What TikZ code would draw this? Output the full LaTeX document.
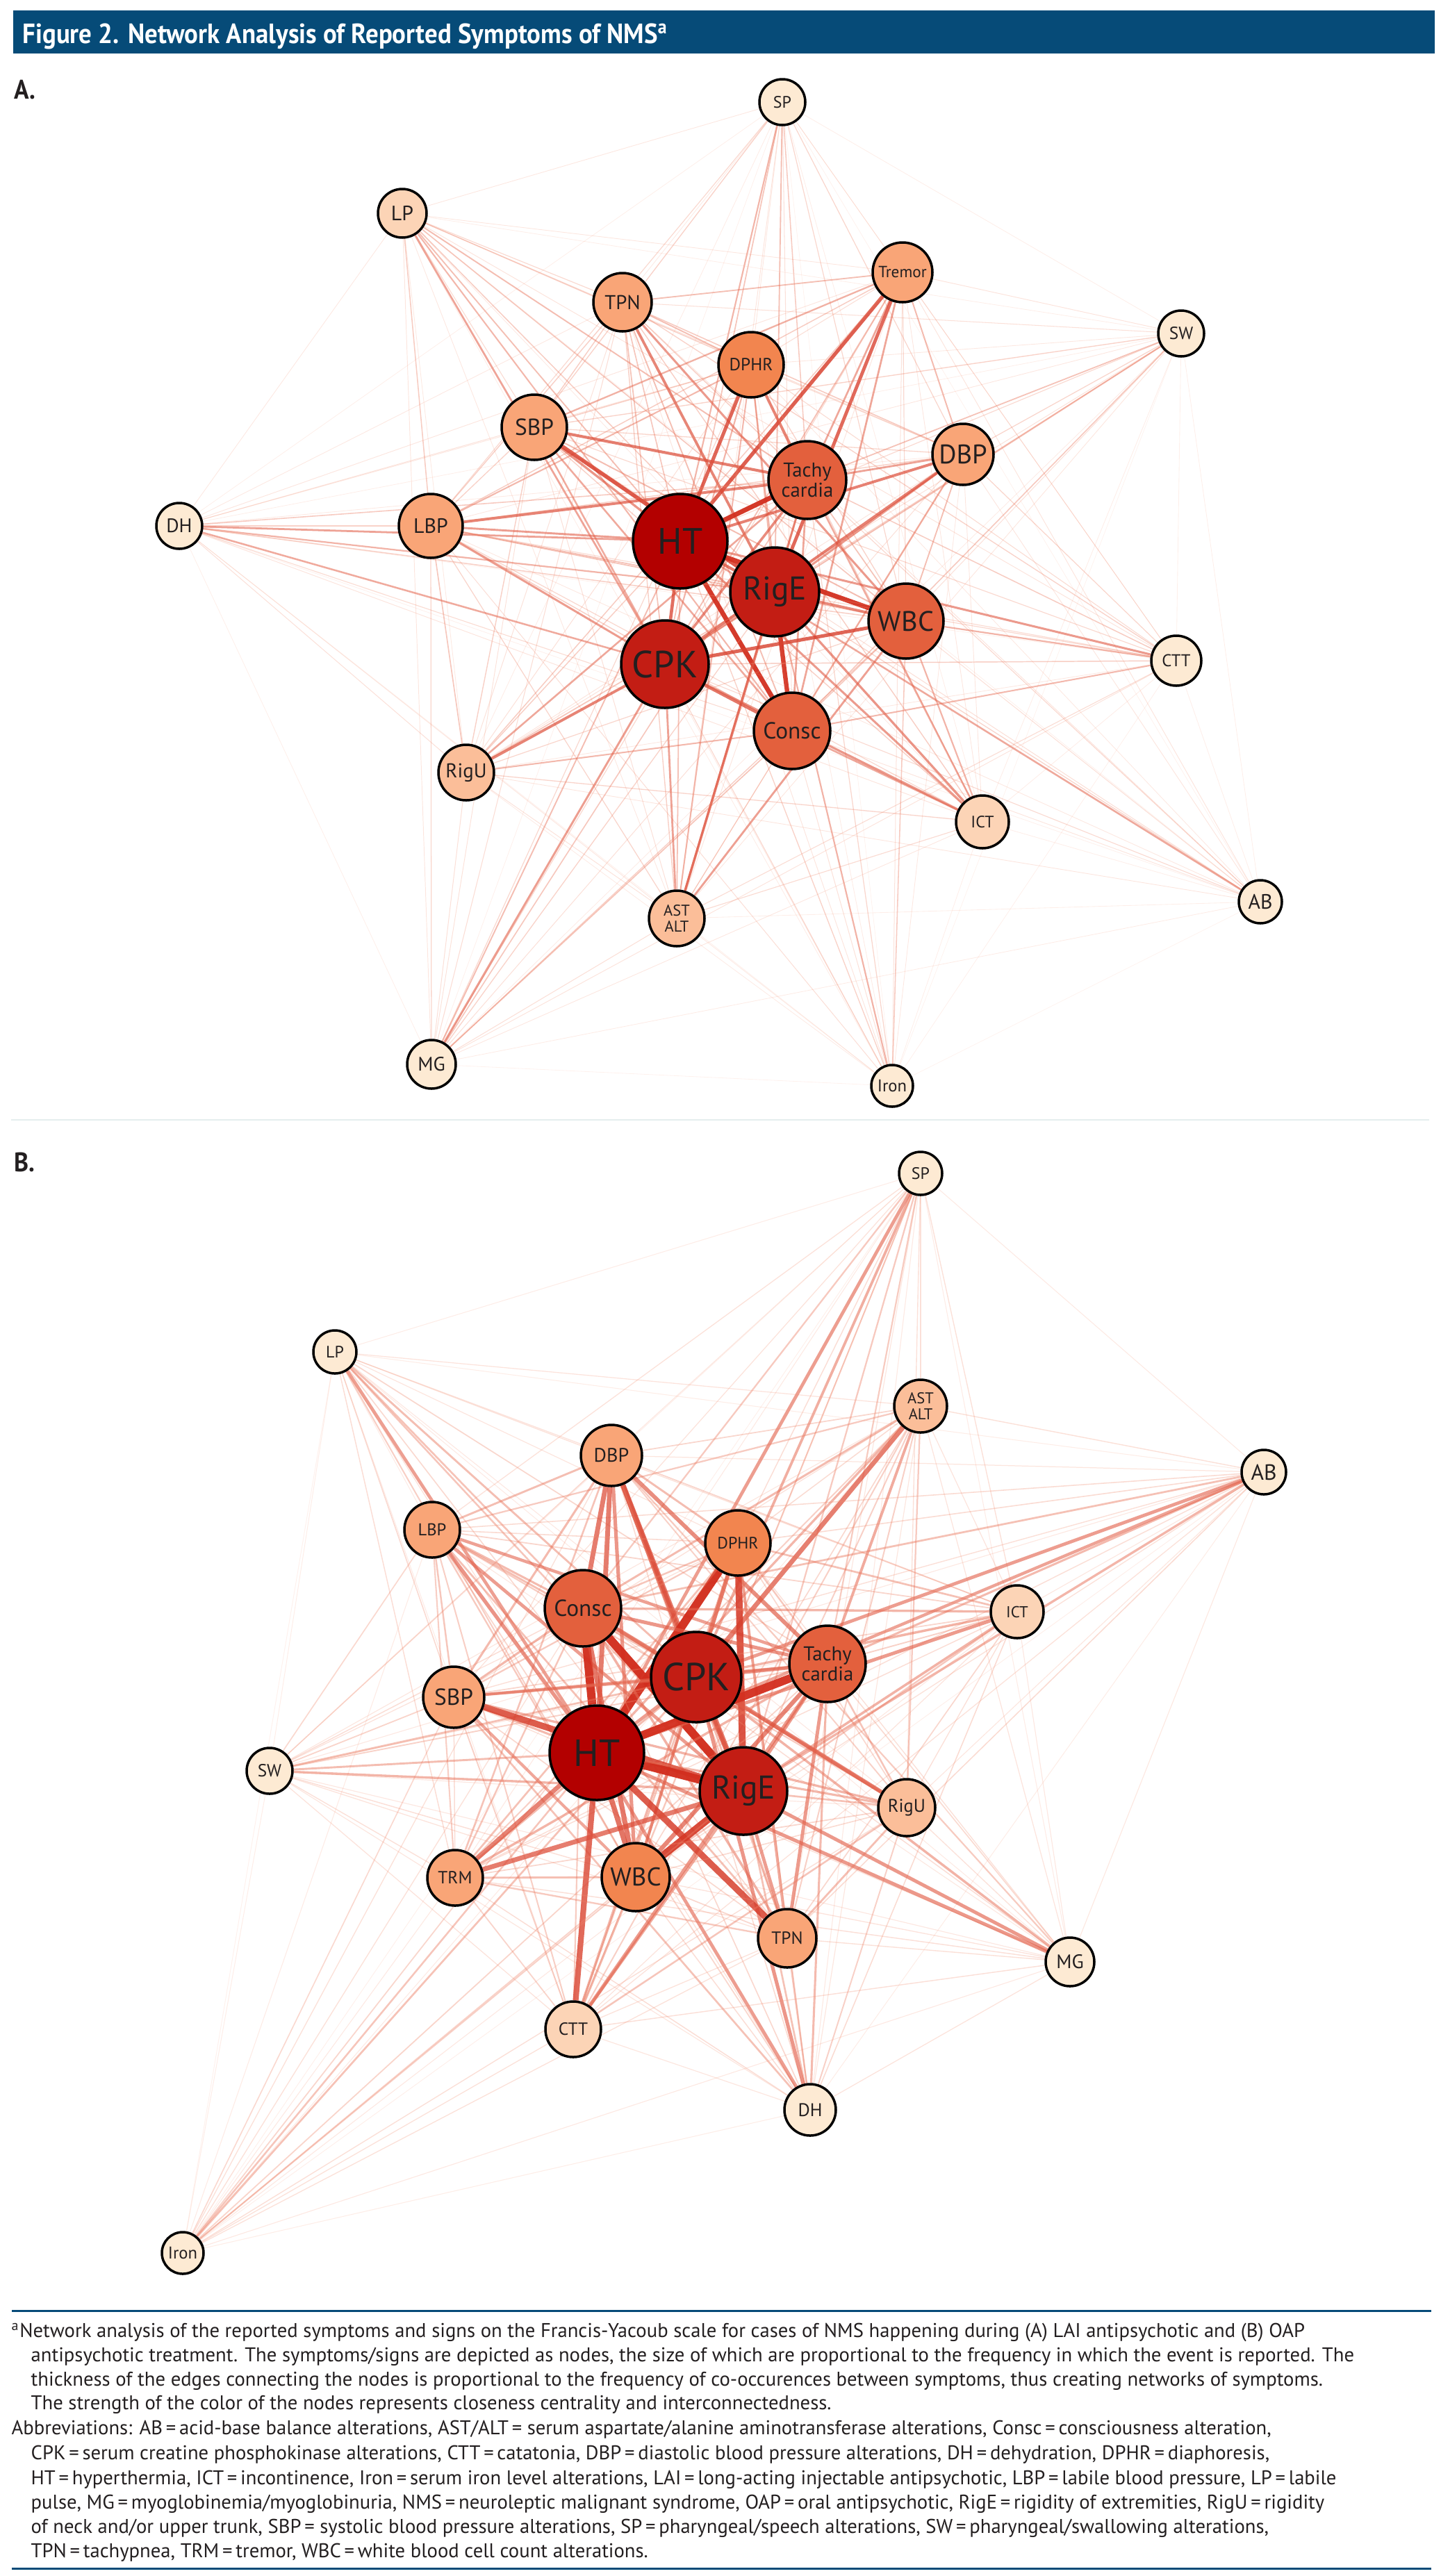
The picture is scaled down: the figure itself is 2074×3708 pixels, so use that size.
\documentclass[tikz,border=0pt]{standalone}
\usepackage{fontspec}
\setmainfont{PT Sans}
\newfontfamily\condfont[FakeStretch=0.92]{PT Sans}
\usetikzlibrary{calc}
\definecolor{headblue}{HTML}{064B78}
\definecolor{rulegray}{HTML}{E4EEEE}
\definecolor{ink}{HTML}{231F20}
\definecolor{nodecream}{HTML}{FDEAD3}
\definecolor{nodepale}{HTML}{FCD4B6}
\definecolor{nodepeach}{HTML}{FBBE99}
\definecolor{nodesalmon}{HTML}{F9A577}
\definecolor{nodeorange}{HTML}{F2854F}
\definecolor{noderust}{HTML}{E3603D}
\definecolor{nodered}{HTML}{C31D14}
\definecolor{nodedark}{HTML}{B30000}
\definecolor{edgelo}{HTML}{F8A586}
\definecolor{edgehi}{HTML}{D22E1E}
\pgfdeclarelayer{edges}
\pgfsetlayers{edges,main}
\tikzset{
  sym/.style={circle,draw=black,line width=0.35mm,inner sep=0pt,text=ink,align=center},
  foot/.style={anchor=base west,inner sep=0pt,text=ink,font=\fontsize{8.15}{9.8}\selectfont},
  panel/.style={anchor=base west,inner sep=0pt,text=ink,font=\condfont\bfseries\fontsize{11}{12}\selectfont}
}

\begin{document}
\begin{tikzpicture}[x=0.1mm,y=-0.1mm]
  \useasboundingbox (0,0) rectangle (2074,3708);
  \pgfmathsetseed{7}

  % header
  \fill[headblue] (19,15) rectangle (2065,77);
  \node[anchor=base west,inner sep=0pt,text=white,font=\condfont\bfseries\fontsize{11.4}{12}\selectfont] (title) at (32,62)
    {Figure 2. Network Analysis of Reported Symptoms of NMS\textsuperscript{a}};

  % panel A
  \node[panel] (labA) at (20,142) {A.};
  \foreach \k/\x/\y/\r/\c/\fs/\lab in {
    0/1126/147/33/nodecream/6.8/SP,
    1/579/307/35/nodepale/8.5/LP,
    2/896/435/42/nodesalmon/8.2/TPN,
    3/1299/392/43/nodesalmon/6.6/Tremor,
    4/1700/480/33/nodecream/7.2/SW,
    5/1081/525/47/nodeorange/7.2/DPHR,
    6/769/615/47/nodesalmon/9.5/SBP,
    7/1162/691/56/noderust/8.2/{Tachy\\cardia},
    8/1386/654/44/nodesalmon/11/DBP,
    9/979/779/68/nodedark/15/HT,
    10/620/757/46/nodesalmon/8.5/LBP,
    11/258/757/33/nodecream/8/DH,
    12/1115/852/64/nodered/13.5/RigE,
    13/1304/894/54/noderust/11.5/WBC,
    14/957/956/63/nodered/15.5/CPK,
    15/1693/951/36/nodecream/7/CTT,
    16/1140/1052/55/noderust/9.5/Consc,
    17/671/1112/40/nodepeach/8.2/RigU,
    18/1414/1183/38/nodepale/6.8/ICT,
    19/974/1322/40/nodepeach/6.4/{AST\\ALT},
    20/1814/1298/31/nodecream/8.5/AB,
    21/621/1532/35/nodecream/8/MG,
    22/1284/1563/30/nodecream/7/Iron} {
    \node[sym,fill=\c,minimum size=\r*0.2mm,font=\fontsize{\fs}{\fs}\selectfont] (A\k) at (\x,\y) {\lab};
    \expandafter\xdef\csname radA\k\endcsname{\r}
  }
  \begin{pgfonlayer}{edges}
  \foreach \i in {0,...,22} {
    \foreach \j in {0,...,22} {
      \ifnum\i<\j
        \edef\ri{\csname radA\i\endcsname}\edef\rj{\csname radA\j\endcsname}
        \pgfmathsetmacro\w{min(1,max(0,min(1,(\ri*\rj-800)/3000))*(0.5+0.8*rnd))}
        \pgfmathtruncatemacro\p{100*\w}
        \pgfmathsetmacro\op{0.1+0.85*\w}
        \pgfmathsetmacro\lw{0.8+6*\w*\w}
        \draw[draw=edgehi!\p!edgelo,draw opacity=\op,line width=\lw*0.1mm] (A\i) -- (A\j);
      \fi
    }
  }
  \end{pgfonlayer}

  \draw[rulegray,line width=0.2mm] (16,1612) -- (2057,1612);

  % panel B
  \node[panel] (labB) at (20,1686) {B.};
  \foreach \k/\x/\y/\r/\c/\fs/\lab in {
    0/1325/1689/31/nodecream/6.8/SP,
    1/482/1946/31/nodecream/6.8/LP,
    2/1325/2024/38/nodepeach/6.4/{AST\\ALT},
    3/1819/2119/32/nodecream/9/AB,
    4/880/2095/44/nodesalmon/8/DBP,
    5/622/2202/40/nodesalmon/7/LBP,
    6/1062/2221/47/nodeorange/6.8/DPHR,
    7/839/2315/55/noderust/9.5/Consc,
    8/1464/2320/38/nodepale/6.5/ICT,
    9/1002/2414/65/nodered/16/CPK,
    10/1191/2395/55/noderust/8.2/{Tachy\\cardia},
    11/653/2443/44/nodesalmon/9.5/SBP,
    12/388/2549/33/nodecream/7.2/SW,
    13/859/2523/68/nodedark/15.5/HT,
    14/1070/2578/63/nodered/13.5/RigE,
    15/1305/2602/41/nodepeach/7.5/RigU,
    16/655/2703/40/nodesalmon/7.2/TRM,
    17/915/2702/49/nodeorange/10.5/WBC,
    18/1133/2790/42/nodesalmon/7.2/TPN,
    19/1540/2824/35/nodecream/8/MG,
    20/825/2921/40/nodepale/7.2/CTT,
    21/1166/3037/37/nodecream/7.5/DH,
    22/263/3243/30/nodecream/7/Iron} {
    \node[sym,fill=\c,minimum size=\r*0.2mm,font=\fontsize{\fs}{\fs}\selectfont] (B\k) at (\x,\y) {\lab};
    \expandafter\xdef\csname radB\k\endcsname{\r}
  }
  \begin{pgfonlayer}{edges}
  \foreach \i in {0,...,22} {
    \foreach \j in {0,...,22} {
      \ifnum\i<\j
        \edef\ri{\csname radB\i\endcsname}\edef\rj{\csname radB\j\endcsname}
        \pgfmathsetmacro\w{min(1,max(0,min(1,(\ri*\rj-750)/2900))*(0.5+0.8*rnd))}
        \pgfmathtruncatemacro\p{100*\w}
        \pgfmathsetmacro\op{0.12+0.85*\w}
        \pgfmathsetmacro\lw{1+11*\w*\w}
        \draw[draw=edgehi!\p!edgelo,draw opacity=\op,line width=\lw*0.1mm] (B\i) -- (B\j);
      \fi
    }
  }
  \end{pgfonlayer}

  % footnote
  \draw[headblue,line width=0.3mm] (17,3326) -- (2060,3326);
  \node[foot] (fn1) at (16,3364) {\textsuperscript{a}Network analysis of the reported symptoms and signs on the Francis-Yacoub scale for cases of NMS happening during (A) LAI antipsychotic and (B) OAP};
  \node[foot] (fn2) at (44,3399) {antipsychotic treatment. The symptoms/signs are depicted as nodes, the size of which are proportional to the frequency in which the event is reported. The};
  \node[foot] (fn3) at (44,3434) {thickness of the edges connecting the nodes is proportional to the frequency of co-occurences between symptoms, thus creating networks of symptoms.};
  \node[foot] (fn4) at (44,3468) {The strength of the color of the nodes represents closeness centrality and interconnectedness.};
  \node[foot] (fn5) at (16,3504) {Abbreviations: AB\,=\,acid-base balance alterations, AST/ALT\,=\ serum aspartate/alanine aminotransferase alterations, Consc\,=\,consciousness alteration,};
  \node[foot] (fn6) at (44,3540) {CPK\,=\,serum creatine phosphokinase alterations, CTT\,=\,catatonia, DBP\,=\,diastolic blood pressure alterations, DH\,=\,dehydration, DPHR\,=\,diaphoresis,};
  \node[foot] (fn7) at (44,3576) {HT\,=\,hyperthermia, ICT\,=\,incontinence, Iron\,=\,serum iron level alterations, LAI\,=\,long-acting injectable antipsychotic, LBP\,=\,labile blood pressure, LP\,=\,labile};
  \node[foot] (fn8) at (44,3611) {pulse, MG\,=\,myoglobinemia/myoglobinuria, NMS\,=\,neuroleptic malignant syndrome, OAP\,=\,oral antipsychotic, RigE\,=\,rigidity of extremities, RigU\,=\,rigidity};
  \node[foot] (fn9) at (44,3646) {of neck and/or upper trunk, SBP\,=\ systolic blood pressure alterations, SP\,=\,pharyngeal/speech alterations, SW\,=\,pharyngeal/swallowing alterations,};
  \node[foot] (fn10) at (44,3681) {TPN\,=\,tachypnea, TRM\,=\,tremor, WBC\,=\,white blood cell count alterations.};
  \draw[headblue,line width=0.3mm] (17,3697) -- (2060,3697);
\end{tikzpicture}
\end{document}
